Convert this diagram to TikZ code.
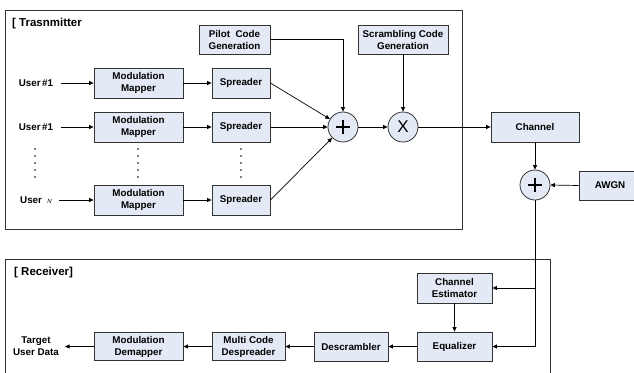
\documentclass[tikz,border=0pt]{standalone}
\usepackage{fontspec}
\setmainfont{Liberation Sans}
\usetikzlibrary{arrows.meta,calc}
\definecolor{boxfill}{HTML}{E3E9F5}
\definecolor{edge}{HTML}{333333}
\begin{document}
\begin{tikzpicture}[x=1pt,y=-1pt,
  blk/.style={draw=edge, fill=boxfill, line width=0.8pt, align=center, inner sep=0pt,
    font=\fontsize{9.8}{12}\selectfont\bfseries},
  sumc/.style={draw=edge, fill=boxfill, circle, line width=0.8pt, minimum size=30pt, inner sep=0pt},
  lbl/.style={font=\fontsize{9.8}{12}\selectfont\bfseries, align=center, inner sep=0pt},
  arr/.style={draw=black, line width=0.7pt, -{Triangle[length=4.5pt,width=4pt]}},
  frame/.style={draw=edge, line width=0.9pt}]
\useasboundingbox (0,0) rectangle (634,372);
\begin{scope}
\clip (0,0) rectangle (634,372);
% frames
\draw[frame] (5,10) rectangle (462,229);
\draw[frame] (5,380) -- (5,259) -- (550,259) -- (550,380);
\node[lbl, anchor=west, font=\fontsize{11.5}{13}\selectfont\bfseries] (ttl) at (12,24) {[ Trasnmitter};
\node[lbl, anchor=west, font=\fontsize{11.5}{13}\selectfont\bfseries] (rtl) at (14,273) {[ Receiver]};
% transmitter blocks
\node[blk, minimum width=89pt, minimum height=30pt] (mm1) at (138.5,83) {Modulation\\Mapper};
\node[blk, minimum width=89pt, minimum height=30pt] (mm2) at (138.5,127) {Modulation\\Mapper};
\node[blk, minimum width=89pt, minimum height=30pt] (mm3) at (138.5,200) {Modulation\\Mapper};
\node[blk, minimum width=58pt, minimum height=30pt] (sp1) at (241,83) {Spreader};
\node[blk, minimum width=58pt, minimum height=30pt] (sp2) at (241,127) {Spreader};
\node[blk, minimum width=58pt, minimum height=30pt] (sp3) at (241,200) {Spreader};
\node[blk, minimum width=71pt, minimum height=29pt] (pil) at (234.5,39.5) {Pilot~ Code\\Generation};
\node[blk, minimum width=90pt, minimum height=29pt] (scr) at (403,39.5) {Scrambling Code\\Generation};
\node[sumc] (add1) at (343,127) {};
\node[sumc] (mul) at (403,127) {\fontsize{17}{17}\selectfont X};
\draw[line width=1.3pt] ($(add1)+(-7,0)$) -- ($(add1)+(7,0)$) ($(add1)+(0,-7)$) -- ($(add1)+(0,7)$);
% users
\node[lbl] (u1) at (36,83) {User\,\#1};
\node[lbl] (u2) at (36,127) {User\,\#1};
\node[lbl] (u3) at (36,200) {User~~{\fontsize{6}{6}\selectfont\mdseries\itshape N}};
\foreach \x in {35,138,241}
  \foreach \y in {149,156,163,170,177}
    \fill (\x,\y) circle (0.9pt);
% channel part
\node[blk, minimum width=88pt, minimum height=30pt] (chan) at (535,127) {Channel};
\node[sumc] (add2) at (535,185) {};
\draw[line width=1.3pt] ($(add2)+(-7,0)$) -- ($(add2)+(7,0)$) ($(add2)+(0,-7)$) -- ($(add2)+(0,7)$);
\node[blk, minimum width=62pt, minimum height=29pt] (awgn) at (610,185.5) {AWGN};
% receiver blocks
\node[blk, minimum width=75pt, minimum height=30pt] (chest) at (454.5,288) {Channel\\Estimator};
\node[blk, minimum width=75pt, minimum height=29pt] (eq) at (454.5,346.5) {Equalizer};
\node[blk, minimum width=74pt, minimum height=29pt] (desc) at (351,346.5) {Descrambler};
\node[blk, minimum width=73pt, minimum height=28pt] (mcd) at (248.5,346.5) {Multi Code\\Despreader};
\node[blk, minimum width=89pt, minimum height=28pt] (mdm) at (138.5,346.5) {Modulation\\Demapper};
\node[lbl] (tgt) at (36,346.5) {Target\\User Data};
% connectors
\draw[arr] ([xshift=8pt]u1.east) -- (mm1.west);
\draw[arr] ([xshift=8pt]u2.east) -- (mm2.west);
\draw[arr] ([xshift=7pt]u3.east) -- (mm3.west);
\draw[arr] (mm1.east) -- (sp1.west);
\draw[arr] (mm2.east) -- (sp2.west);
\draw[arr] (mm3.east) -- (sp3.west);
\draw[arr] (sp1.east) -- (add1);
\draw[arr] (sp2.east) -- (add1.west);
\draw[arr] (sp3.east) -- (add1);
\draw[arr] (pil.east) -| (add1.north);
\draw[arr] (scr.south) -- (mul.north);
\draw[arr] (add1.east) -- (mul.west);
\draw[arr] (mul.east) -- (chan.west);
\draw[arr] (chan.south) -- (add2.north);
\draw[arr] (awgn.west) -- (add2.east);
\draw[arr] (add2.south) |- (eq.east);
\coordinate (br) at (add2.south |- chest.east);
\draw[arr] (br) -- (chest.east);
\draw[arr] (chest.south) -- (eq.north);
\draw[arr] (eq.west) -- (desc.east);
\draw[arr] (desc.west) -- (mcd.east);
\draw[arr] (mcd.west) -- (mdm.east);
\draw[arr] (mdm.west) -- ([xshift=6pt]tgt.east);
\end{scope}
\end{tikzpicture}
\end{document}
